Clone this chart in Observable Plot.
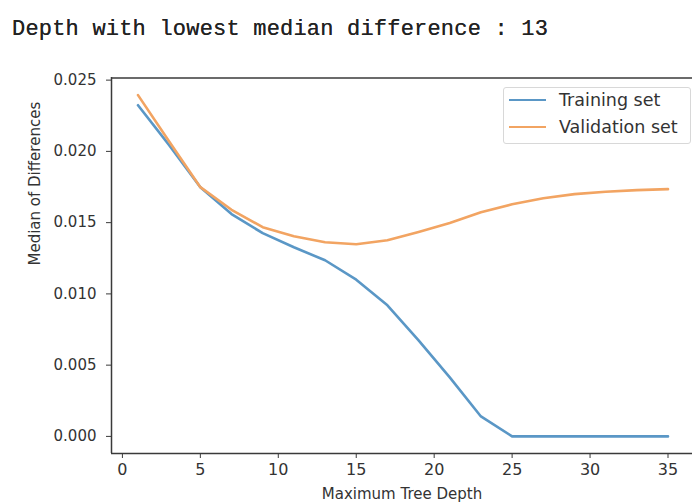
<!DOCTYPE html>
<html>
<head>
<meta charset="utf-8">
<script src="https://cdn.jsdelivr.net/npm/d3@7"></script>
<script src="https://cdn.jsdelivr.net/npm/@observablehq/plot@0.6"></script>
<style>
  html, body { margin: 0; padding: 0; background: #fff; overflow: hidden; }
  #wrap { position: relative; width: 692px; height: 503px; }
  #title { position: absolute; left: 12px; top: 17px; font-family: "Liberation Mono", "DejaVu Sans Mono", monospace; font-size: 22px; color: #222; white-space: pre; letter-spacing: 0.2px; text-shadow: 0 0 0.6px #444; }
  #legend { position: absolute; left: 503px; top: 87px; width: 188px; height: 57px; border: 1px solid #d8d8d8; border-radius: 3px; background: rgba(255,255,255,0.85); font-family: "DejaVu Sans", sans-serif; font-size: 17.5px; color: #333; box-sizing: border-box; }
  .row { position: absolute; left: 5px; height: 22px; display: flex; align-items: center; white-space: nowrap; }
  .sw { width: 37px; height: 0; border-top: 2.6px solid; margin-right: 13px; }
  svg.plot { position: absolute; left: 0; top: 0; overflow: hidden; }
</style>
</head>
<body>
<div id="wrap">
  <div id="title"></div>
  <div id="legend"></div>
</div>
<script>
const titleText = "Depth with lowest median difference : 13";
const seriesNames = ["Training set", "Validation set"];
const seriesColors = ["#5a97c6", "#f2a462"];
const depths = [1, 3, 5, 7, 9, 11, 13, 15, 17, 19, 21, 23, 25, 27, 29, 31, 33, 35];
const training = [0.02324, 0.02044, 0.01749, 0.01560, 0.01426, 0.01327, 0.01236, 0.01100, 0.0092, 0.00674, 0.00414, 0.0014, 0, 0, 0, 0, 0, 0];
const validation = [0.02395, 0.0207, 0.01749, 0.0159, 0.01468, 0.01404, 0.01362, 0.01348, 0.01376, 0.01435, 0.01498, 0.01573, 0.01629, 0.01671, 0.017, 0.01717, 0.01728, 0.01735];
const xTicks = [0, 5, 10, 15, 20, 25, 30, 35];
const yTicks = [0, 0.005, 0.010, 0.015, 0.020, 0.025];
const xLabel = "Maximum Tree Depth";
const yLabel = "Median of Differences";

document.getElementById("title").textContent = titleText;

const data = depths.flatMap((d, i) => [
  {depth: d, value: training[i], series: seriesNames[0]},
  {depth: d, value: validation[i], series: seriesNames[1]}
]);

const xDomain = [-0.7, 36.7];
const yDomain = [-0.0012, 0.02515];

const chart = Plot.plot({
  width: 692,
  height: 503,
  marginLeft: 111,
  marginRight: 0,
  marginTop: 77,
  marginBottom: 50,
  style: {fontFamily: "DejaVu Sans, sans-serif", fontSize: "15px", color: "#333", background: "transparent"},
  x: {domain: xDomain, range: [111, 694]},
  y: {domain: yDomain, range: [453, 77.5]},
  color: {domain: seriesNames, range: seriesColors},
  marks: [
    Plot.line(data, {x: "depth", y: "value", stroke: "series", strokeWidth: 2.6}),
    Plot.ruleX([xDomain[0]], {stroke: "#3a3a3a", strokeWidth: 1.5}),
    Plot.ruleY([yDomain[0]], {stroke: "#3a3a3a", strokeWidth: 1.5}),
    Plot.ruleY([yDomain[1]], {stroke: "#3a3a3a", strokeWidth: 1.5}),
    Plot.axisX({ticks: xTicks, tickSize: 5, tickPadding: 5, fontSize: 16, label: null, stroke: "#3a3a3a"}),
    Plot.axisY({ticks: yTicks, tickSize: 5, tickPadding: 10, fontSize: 15, label: null, tickFormat: d3.format(".3f"), stroke: "#3a3a3a"}),
    Plot.text([xLabel], {frameAnchor: "bottom", dy: 45, fontSize: 15, fill: "#333"}),
    Plot.text([yLabel], {frameAnchor: "left", dx: -76, rotate: -90, fontSize: 15, fill: "#333"})
  ]
});
document.getElementById("wrap").insertBefore(chart, document.getElementById("title"));

const legend = document.getElementById("legend");
seriesNames.forEach((name, i) => {
  const row = document.createElement("div");
  row.className = "row";
  row.style.top = (1 + i * 27) + "px";
  const sw = document.createElement("div");
  sw.className = "sw";
  sw.style.borderTopColor = seriesColors[i];
  const t = document.createElement("span");
  t.textContent = name;
  row.appendChild(sw);
  row.appendChild(t);
  legend.appendChild(row);
});
</script>
</body>
</html>
